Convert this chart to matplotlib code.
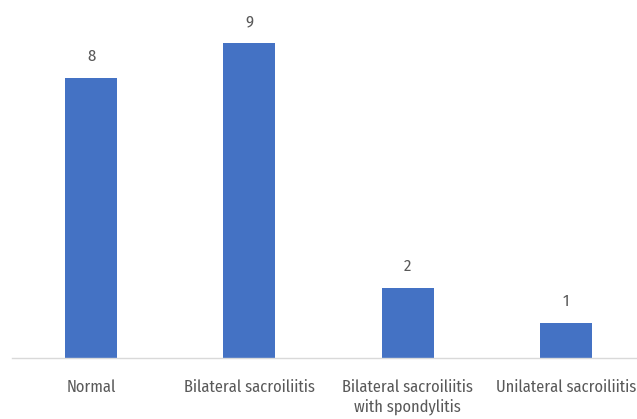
import matplotlib
matplotlib.use("Agg")
import matplotlib.pyplot as plt

# counts per finding
categories = ['Normal', 'Bilateral sacroiliitis', 'Bilateral sacroiliitis\nwith spondylitis',
              'Unilateral sacroiliitis']
counts = [8, 9, 2, 1]

bar_color = '#4472C4'
text_color = '#595959'
font = ['Fira Sans Condensed', 'DejaVu Sans']

fig = plt.figure(figsize=(6.37, 4.19), dpi=100)
# axes spills a little past the right edge, so the last label is clipped
ax = fig.add_axes([12 / 637, 61 / 419, 633 / 637, 350 / 419])

x = list(range(len(categories)))
bars = ax.bar(x, counts, width=0.33, color=bar_color, zorder=2)
for xi, v in zip(x, counts):
    ax.annotate(str(v), (xi, v), xytext=(0, 12.2), textcoords='offset points', ha='center', va='baseline',
                color=text_color, fontsize=12, family=font, fontweight='normal')

ax.set_xlim(-0.5, len(categories) - 0.5)
ax.set_ylim(0, 10)
ax.set_xticks(x)
ax.set_xticklabels(categories, color=text_color, fontsize=11.8, family=font, fontweight='normal',
                   linespacing=1.25)
ax.tick_params(axis='x', length=0, pad=15)
ax.set_yticks([])
for side in ['top', 'right', 'left']:
    ax.spines[side].set_visible(False)
ax.spines['bottom'].set_color('#d9d9d9')
ax.spines['bottom'].set_linewidth(1.0)

fig.savefig('out.png', dpi=100)
